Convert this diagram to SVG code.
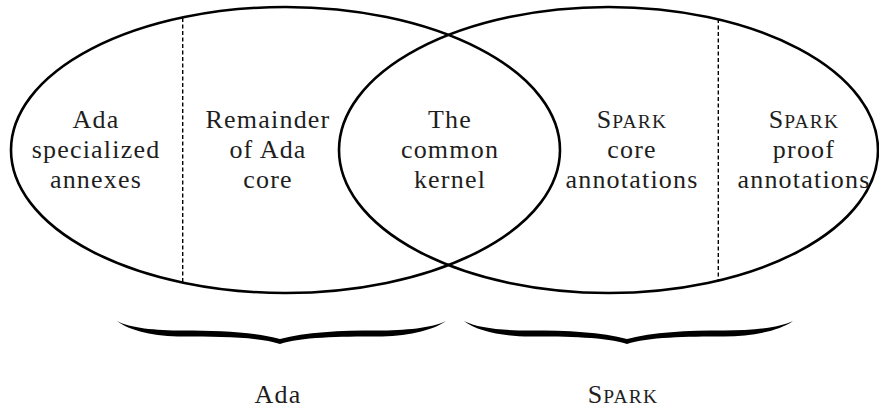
<svg xmlns="http://www.w3.org/2000/svg" width="879" height="410" viewBox="0 0 879 410">
  <style>
    .set { fill: none; stroke: #000; stroke-width: 2.6; }
    .split { stroke: #000; stroke-width: 1.4; stroke-dasharray: 4 2.5; }
    .lbl { font-family: "Liberation Serif", "Times New Roman", serif; font-size: 26px; letter-spacing: 1.2px; fill: #1e1e1e; text-anchor: middle; }
    .sc { font-size: 19.5px; }
    .brace { fill: #000; }
  </style>
  <defs>
    <!-- curly brace, tip at the origin, ends curling up to the left and right -->
    <path id="brace" d="M-163,-23 C-150,-16 -125,-13.5 -97,-13.5 C-60,-13.5 -25,-12 0,-5 C25,-12 60,-13.5 97,-13.5 C125,-13.5 152,-16 166,-23 C152,-13 125,-7.5 97,-7.5 C60,-7.5 20,-7 0,0 C-20,-7 -60,-7.5 -97,-7.5 C-125,-7.5 -150,-13 -163,-23 Z"/>
  </defs>

  <g id="connectors">
    <!-- the two overlapping language sets -->
    <ellipse id="ada-set" class="set" cx="285.5" cy="150" rx="274.5" ry="143"/>
    <ellipse id="spark-set" class="set" cx="608.5" cy="150" rx="269.5" ry="143"/>
    <!-- dashed partitions inside each set -->
    <line class="split" x1="182.7" y1="18" x2="182.7" y2="283"/>
    <line class="split" x1="718.3" y1="19" x2="718.3" y2="282"/>
  </g>

  <g id="ada-annexes">
    <text class="lbl" x="96" y="128">Ada</text>
    <text class="lbl" x="96" y="158">specialized</text>
    <text class="lbl" x="96" y="188">annexes</text>
  </g>

  <g id="ada-core">
    <text class="lbl" x="268" y="128">Remainder</text>
    <text class="lbl" x="268" y="158">of Ada</text>
    <text class="lbl" x="268" y="188">core</text>
  </g>

  <g id="common-kernel">
    <text class="lbl" x="450" y="128">The</text>
    <text class="lbl" x="450" y="158">common</text>
    <text class="lbl" x="450" y="188">kernel</text>
  </g>

  <g id="spark-core">
    <text class="lbl" x="632" y="128">S<tspan class="sc">PARK</tspan></text>
    <text class="lbl" x="632" y="158">core</text>
    <text class="lbl" x="632" y="188">annotations</text>
  </g>

  <g id="spark-proof">
    <text class="lbl" x="804" y="128">S<tspan class="sc">PARK</tspan></text>
    <text class="lbl" x="804" y="158">proof</text>
    <text class="lbl" x="804" y="188">annotations</text>
  </g>

  <g id="ada-group">
    <use href="#brace" class="brace" transform="translate(280,344)"/>
    <text class="lbl" x="278" y="403">Ada</text>
  </g>

  <g id="spark-group">
    <use href="#brace" class="brace" transform="translate(627,344)"/>
    <text class="lbl" x="623" y="403">S<tspan class="sc">PARK</tspan></text>
  </g>
</svg>
